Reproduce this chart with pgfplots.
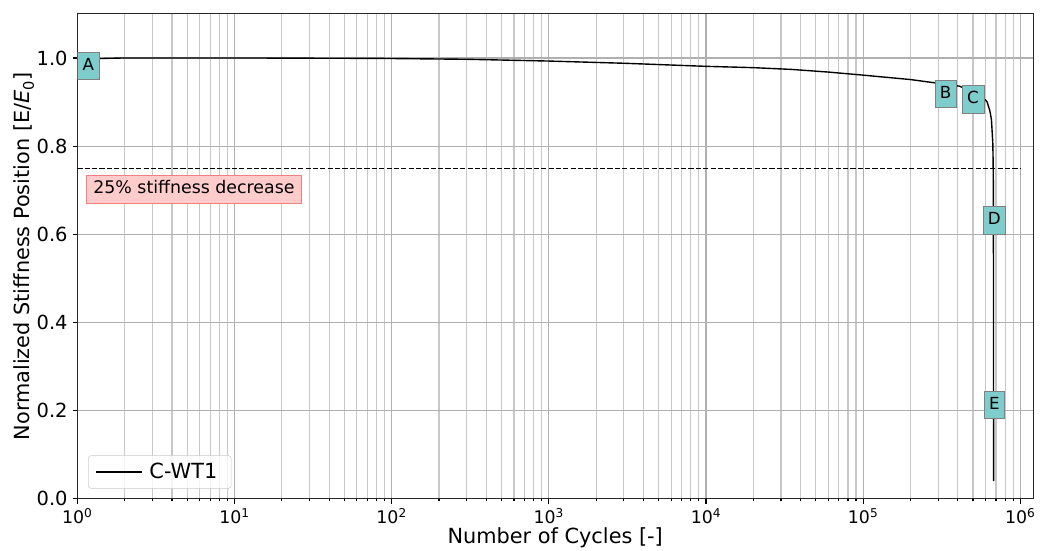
\documentclass[border=0pt]{standalone}
\usepackage{fontspec}
\setmainfont{DejaVu Sans}
\usepackage{pgfplots}
\pgfplotsset{compat=1.18}
\usetikzlibrary{calc}

\definecolor{boxteal}{RGB}{127,204,204}
\definecolor{boxpink}{RGB}{255,204,204}
\definecolor{boxpinkedge}{RGB}{240,128,128}
\definecolor{gridmaj}{RGB}{176,176,176}
\definecolor{gridmin}{RGB}{200,200,200}

\begin{document}
\begin{tikzpicture}
\begin{axis}[
  scale only axis,
  width=688pt, height=349pt,
  xmode=log,
  xmin=1, xmax=1.205e6,
  ymin=0, ymax=1.1,
  xtick={1,10,100,1000,10000,100000,1000000},
  xticklabels={10\textsuperscript{0},10\textsuperscript{1},10\textsuperscript{2},10\textsuperscript{3},10\textsuperscript{4},10\textsuperscript{5},10\textsuperscript{6}},
  ytick={0,0.2,0.4,0.6,0.8,1.0},
  y tick label style={/pgf/number format/fixed, /pgf/number format/fixed zerofill,
    /pgf/number format/precision=1, /pgf/number format/assume math mode=true,
    font=\fontsize{14}{16}\selectfont},
  x tick label style={font=\fontsize{12.5}{15}\selectfont},
  xlabel={Number of Cycles [-]},
  ylabel={Normalized Stiffness Position [E/{\itshape E}\textsubscript{0}]},
  label style={font=\fontsize{15}{18}\selectfont},
  xlabel style={yshift=4pt},
  ylabel style={yshift=-5pt},
  grid=both,
  major grid style={gridmaj, line width=0.8pt},
  minor grid style={gridmin, line width=0.8pt},
  tick pos=left, tick align=outside,
  major tick length=3.5pt, minor tick length=2pt,
  every tick/.style={black, line width=0.8pt},
  axis line style={black!85, line width=0.8pt},
  legend cell align=left,
  legend style={at={(rel axis cs:0,0)}, anchor=south west, xshift=7.7pt, yshift=7.2pt,
    draw=gray!40, rounded corners=2pt, fill=white, fill opacity=0.8, text opacity=1,
    inner xsep=5pt, inner ysep=3.5pt, font=\fontsize{15}{18}\selectfont,
    nodes={font=\fontsize{15}{18}\selectfont, inner xsep=5pt}},
  legend image code/.code={\draw[#1] (0pt,0pt) -- (33pt,0pt);},
]
\addplot[black, line width=1pt] coordinates {
  (1,0.997) (1.5,0.999) (2,1.000) (10,1.000) (30,0.9995) (85,0.999)
  (300,0.997) (1000,0.993) (3000,0.988) (10000,0.981) (20000,0.978)
  (35000,0.974) (60000,0.968) (100000,0.961) (200000,0.951) (280000,0.944)
  (335000,0.940) (410000,0.936) (480000,0.925) (560000,0.912) (600000,0.905)
  (615000,0.900) (640000,0.880) (655000,0.860) (668000,0.807) (671000,0.770)
  (674000,0.700) (675000,0.300) (676000,0.040)
};
\addlegendentry{C-WT1}

\draw[black, line width=0.8pt, dash pattern=on 3.7pt off 1.6pt] (axis cs:1,0.75) -- (axis cs:1000000,0.75);

\node[fill=boxpink, draw=boxpinkedge, inner xsep=5pt, text height=9.5pt, text depth=2.9pt, inner ysep=3.7pt,
  font=\fontsize{12.5}{15}\selectfont] at (axis cs:5.52,0.702) {25\% stiffness decrease};

\tikzset{lab/.style={fill=boxteal, draw=gray, inner xsep=3.6pt, text height=9.5pt, text depth=2.9pt,
  inner ysep=3.7pt, font=\fontsize{12}{14}\selectfont}}
\node[lab] at (axis cs:1.175,0.982) {A};
\node[lab] at (axis cs:335000,0.919) {B};
\node[lab] at (axis cs:500000,0.906) {C};
\node[lab] at (axis cs:683000,0.632) {D};
\node[lab] at (axis cs:683000,0.2136) {E};

\coordinate (ll) at (rel axis cs:0,0);
\coordinate (ur) at (rel axis cs:1,1);
\end{axis}
\pgfresetboundingbox
\useasboundingbox ($(ll)+(-55.7pt,-37.4pt)$) rectangle ($(ur)+(5pt,10pt)$);
\end{tikzpicture}
\end{document}
